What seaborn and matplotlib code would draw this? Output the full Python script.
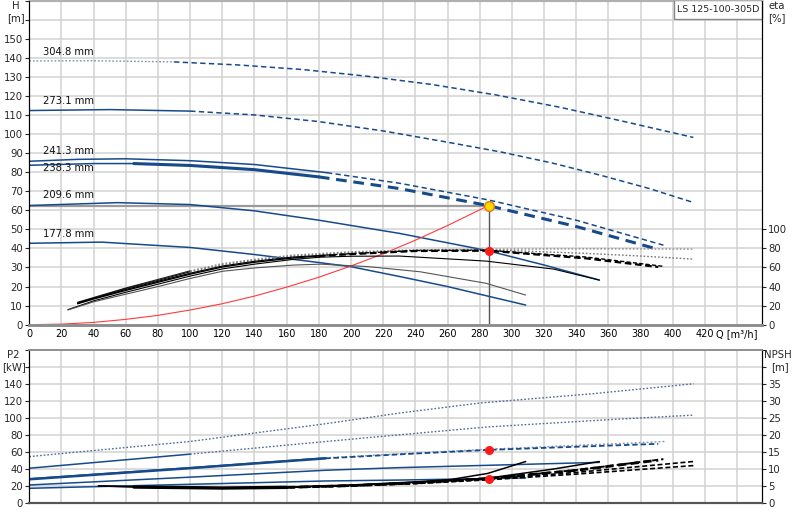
import matplotlib
matplotlib.use("Agg")
import matplotlib.pyplot as plt
import matplotlib.patches as mpatches
import numpy as np
import pandas as pd
import seaborn as sns

# ---------------- data ----------------
DIAMETERS = ["304.8 mm", "273.1 mm", "241.3 mm", "238.3 mm", "209.6 mm", "177.8 mm"]
MODEL = "LS 125-100-305D"

# head curves H [m] vs Q [m3/h]
Q_H_3048 = [0, 40, 90, 130, 170, 210, 250, 290, 330, 370, 412.8]
H_3048 = [138.3, 138.4, 137.8, 136.2, 133.8, 130.3, 126.0, 120.5, 114.0, 106.5, 98.2]
Q_H_2731 = [0, 50, 100, 140, 180, 220, 260, 293, 325, 355, 385, 412.8]
H_2731 = [112.3, 112.8, 112.0, 110.0, 106.5, 101.6, 95.7, 90.6, 84.8, 78.4, 71.5, 64.1]
Q_H_2413 = [0, 30, 60, 100, 140, 185, 230, 285, 340, 394.2]
H_2413 = [85.7, 86.7, 87.0, 86.0, 84.0, 79.7, 74.2, 65.5, 54.8, 41.7]
Q_H_2383 = [0, 40, 65, 100, 140, 180, 230, 285, 340, 391]
H_2383 = [83.6, 84.5, 84.5, 83.5, 81.3, 77.5, 71.4, 62.5, 51.5, 39.5]
Q_H_2096 = [0, 55, 100, 140, 180, 230, 285, 320, 354.4]
H_2096 = [62.5, 64.0, 63.0, 59.7, 54.8, 47.9, 38.8, 31.3, 23.4]
Q_H_1778 = [0, 45, 100, 140, 180, 200, 230, 260, 285, 308.6]
H_1778 = [42.7, 43.3, 40.5, 36.8, 32.6, 30.4, 25.3, 20.0, 15.0, 10.3]

# efficiency curves eta [%]
Q_E_3048 = [30, 40, 60, 80, 100, 120, 140, 164, 200, 240, 285, 346, 380, 412.8]
E_3048 = [23.5, 28.5, 38.5, 47.5, 56.5, 64.0, 68.5, 73.0, 76.5, 78.5, 79.2, 79.6, 79.5, 79.3]
Q_E_2731 = [30, 40, 60, 80, 100, 120, 140, 164, 200, 240, 285, 346, 380, 412.8]
E_2731 = [23.0, 28.0, 38.0, 46.5, 55.5, 63.0, 67.5, 72.0, 75.5, 77.8, 78.6, 74.8, 72.0, 68.8]
Q_E_2413 = [30, 40, 60, 80, 100, 120, 140, 164, 185, 200, 240, 285, 346, 394.2]
E_2413 = [22.4, 27.5, 37.0, 45.5, 54.0, 61.5, 66.5, 71.0, 73.0, 74.5, 77.8, 78.0, 71.0, 61.2]
Q_E_2383 = [30, 40, 60, 80, 100, 120, 140, 164, 180, 200, 240, 285, 346, 391]
E_2383 = [22.0, 27.0, 36.0, 44.5, 53.0, 60.5, 65.5, 70.0, 72.0, 74.0, 77.3, 77.6, 69.6, 60.5]
Q_E_2096 = [24, 40, 60, 80, 100, 120, 140, 164, 181, 200, 230, 284, 326, 354.4]
E_2096 = [15.8, 25.0, 34.0, 42.5, 51.0, 58.5, 63.5, 68.5, 70.8, 71.8, 72.0, 66.7, 58.3, 46.8]
Q_E_1778 = [24, 40, 60, 80, 100, 120, 140, 164, 181, 210, 243, 284, 308.6]
E_1778 = [15.4, 24.0, 32.0, 40.0, 48.5, 56.0, 59.5, 62.5, 63.5, 61.0, 55.5, 43.4, 31.1]

# system curve
Q_SYS = [0, 20, 40, 60, 80, 100, 120, 140, 160, 180, 200, 220, 240, 260, 285.5]
H_SYS = [0, 0.3, 1.2, 2.8, 4.9, 7.7, 11.0, 15.0, 19.7, 24.9, 30.8, 37.2, 44.3, 52.0, 62.5]

# power curves P2 [kW]
Q_P_3048 = [0, 100, 184, 230, 280, 350, 413]
P_3048 = [54.6, 72.4, 93.2, 105.8, 117.6, 128.5, 140.3]
Q_P_2731 = [0, 100, 184, 230, 285, 359, 412.8]
P_2731 = [40.9, 57.5, 72.3, 80.2, 89.5, 97.9, 103.4]
Q_P_2413 = [0, 100, 184, 230, 285.5, 395]
P_2413 = [28.5, 41.5, 53.0, 57.8, 63.2, 72.3]
Q_P_2383 = [0, 100, 184, 230, 285.5, 391]
P_2383 = [27.9, 41.0, 52.5, 57.2, 62.5, 69.6]
Q_P_2096 = [0, 100, 184, 230, 354.4]
P_2096 = [21.2, 30.4, 38.5, 41.6, 47.8]
Q_P_1778 = [0, 100, 184, 230, 308.6]
P_1778 = [17.3, 22.0, 25.9, 27.0, 29.5]

# NPSH curves [m]
Q_N_3048 = [86, 120, 160, 200, 240, 285, 340, 412.8]
N_3048 = [4.5, 4.35, 4.5, 5.0, 5.7, 6.8, 8.5, 11.0]
Q_N_2731 = [86, 120, 160, 200, 240, 285, 340, 412.8]
N_2731 = [4.5, 4.35, 4.55, 5.05, 5.8, 7.0, 9.0, 12.2]
Q_N_2413 = [65, 120, 160, 200, 240, 285, 340, 394.2]
N_2413 = [4.7, 4.4, 4.6, 5.15, 6.0, 7.2, 9.7, 12.9]
Q_N_2383 = [65, 120, 160, 200, 240, 285, 340, 391]
N_2383 = [4.7, 4.4, 4.6, 5.1, 5.9, 7.2, 9.6, 12.6]
Q_N_2096 = [43, 80, 120, 160, 200, 240, 285, 326, 354.4]
N_2096 = [5.0, 4.6, 4.4, 4.6, 5.2, 6.1, 7.3, 10.0, 12.2]
Q_N_1778 = [43, 80, 120, 160, 200, 240, 262, 285, 308.6]
N_1778 = [5.0, 4.6, 4.4, 4.7, 5.3, 6.2, 6.9, 8.7, 12.2]

# duty point
OP_Q, OP_H, OP_ETA, OP_P2, OP_NPSH = 285.5, 62.5, 77.6, 62.5, 7.2

Q_TICKS = list(range(0, 441, 20))
Q_LABELS = [str(v) for v in range(0, 421, 20)] + ["Q [m\u00b3/h]"]

# ---------------- style ----------------
sns.set_style("white")
plt.rcParams["font.family"] = ["DejaVu Sans"]
plt.rcParams["font.size"] = 7

BLUE = "#174a8b"
GREYBLUE = "#7f8fae"
GRID = "#d2d2d2"
DOT = (0, (1.2, 1.4))
DASH = (0, (3.5, 2.2))
DASH_S = (0, (3, 1.6))

W, Hpx = 800, 520


def fx(px):
    return px / W


def fy(py):
    return 1 - py / Hpx


def segs(q, v, bounds):
    idx = [0] + [q.index(b) for b in bounds] + [len(q) - 1]
    return [(q[a:b + 1], v[a:b + 1]) for a, b in zip(idx[:-1], idx[1:])]


def draw(axis, q, v, bounds, styles):
    for (qs, vs), st in zip(segs(q, v, bounds), styles):
        df = pd.DataFrame({"Q": qs, "v": vs})
        sns.lineplot(data=df, x="Q", y="v", ax=axis, estimator=None,
                     sort=False, legend=False, **st)


fig = plt.figure(figsize=(8, 5.2), dpi=100)
ax = fig.add_axes([fx(29.3), fy(324.7), fx(762) - fx(29.3), fy(0.5) - fy(324.7)])
ax_e = ax.twinx()
bx = fig.add_axes([fx(29.3), fy(503), fx(762) - fx(29.3), fy(350) - fy(503)])
bx_n = bx.twinx()


def S(c, ls="-", lw=1.0):
    return dict(color=c, linestyle=ls, linewidth=lw)


# ---- upper: head curves
draw(ax, Q_H_3048, H_3048, [90], [S(GREYBLUE, DOT, 1.0), S(BLUE, DASH, 1.1)])
draw(ax, Q_H_2731, H_2731, [100], [S(BLUE, "-", 1.1), S(BLUE, DASH, 1.1)])
draw(ax, Q_H_2413, H_2413, [185], [S(BLUE, "-", 1.1), S(BLUE, DASH, 1.1)])
draw(ax, Q_H_2383, H_2383, [65, 180], [S(BLUE, "-", 1.1), S(BLUE, "-", 2.2), S(BLUE, DASH, 2.2)])
draw(ax, Q_H_2096, H_2096, [], [S(BLUE, "-", 1.1)])
draw(ax, Q_H_1778, H_1778, [], [S(BLUE, "-", 1.1)])

draw(ax, Q_SYS, H_SYS, [], [S("#ff3a3a", "-", 0.8)])
ax.plot([0, OP_Q], [OP_H, OP_H], color="#9a9a9a", lw=1.6, zorder=1)
ax.plot([OP_Q, OP_Q], [0, OP_H], color="#555555", lw=1.0, zorder=1)

# ---- upper: efficiency curves
draw(ax_e, Q_E_3048, E_3048, [100], [S("#222222", "-", 0.8), S("#8c8c8c", DOT, 1.0)])
draw(ax_e, Q_E_2731, E_2731, [100], [S("#111111", "-", 0.8), S("#777777", DOT, 1.0)])
draw(ax_e, Q_E_2413, E_2413, [185], [S("black", "-", 0.8), S("black", DASH_S, 1.0)])
draw(ax_e, Q_E_2383, E_2383, [180], [S("black", "-", 1.0), S("black", DASH_S, 1.6)])
draw(ax_e, Q_E_2096, E_2096, [], [S("black", "-", 0.8)])
draw(ax_e, Q_E_1778, E_1778, [], [S("#555555", "-", 0.8)])

ax.plot([OP_Q], [OP_H], "o", ms=7, mfc="#ffd800", mec="#e07b00", mew=1.0, zorder=10)
ax_e.plot([OP_Q], [OP_ETA], "o", ms=5.5, color="#ff1a1a", zorder=10)

# ---- lower: power curves
draw(bx, Q_P_3048, P_3048, [], [S("#4d6a98", DOT, 1.0)])
draw(bx, Q_P_2731, P_2731, [100], [S(BLUE, "-", 1.1), S("#4d6a98", DOT, 1.0)])
draw(bx, Q_P_2413, P_2413, [184], [S(BLUE, "-", 1.1), S("#8c97ae", DOT, 1.1)])
draw(bx, Q_P_2383, P_2383, [184], [S(BLUE, "-", 1.8), S(BLUE, DASH_S, 1.3)])
draw(bx, Q_P_2096, P_2096, [], [S(BLUE, "-", 1.1)])
draw(bx, Q_P_1778, P_1778, [], [S(BLUE, "-", 1.1)])
bx.plot([OP_Q], [OP_P2], "o", ms=5.5, color="#ff1a1a", zorder=10)

# ---- lower: NPSH curves
draw(bx_n, Q_N_3048, N_3048, [], [S("black", DASH_S, 1.2)])
draw(bx_n, Q_N_2731, N_2731, [], [S("black", DASH_S, 1.2)])
draw(bx_n, Q_N_2413, N_2413, [160], [S("black", "-", 1.4), S("black", DASH_S, 1.4)])
draw(bx_n, Q_N_2383, N_2383, [160], [S("black", "-", 2.4), S("black", DASH_S, 2.0)])
draw(bx_n, Q_N_2096, N_2096, [], [S("black", "-", 1.1)])
draw(bx_n, Q_N_1778, N_1778, [], [S("black", "-", 1.1)])
bx_n.plot([OP_Q], [OP_NPSH], "o", ms=5.5, color="#ff1a1a", zorder=10)

# ---------------- axes formatting ----------------
for a in (ax, ax_e, bx, bx_n):
    a.set_xlabel("")
    a.set_ylabel("")
    a.set_xlim(0, 455.5)

ax.set_ylim(0, 170)
ax_e.set_ylim(0, 340)
bx.set_ylim(0, 180)
bx_n.set_ylim(0, 45)

for a in (ax, bx):
    a.set_xticks(Q_TICKS)
    a.grid(True, color=GRID, lw=1.1)
    a.set_axisbelow(True)

ax.set_xticklabels(Q_LABELS)
ax.tick_params(axis="x", length=0, pad=3, labelsize=7, colors="black")
bx.set_xticklabels([])
bx.tick_params(axis="x", length=0)

ax.set_yticks(list(range(0, 171, 10)))
ax.set_yticklabels([str(v) for v in range(0, 151, 10)] + ["", ""])
ax.tick_params(axis="y", length=3, width=0.8, pad=1.5, labelsize=7.3, direction="out")
ax_e.set_yticks(list(range(0, 101, 20)))
ax_e.tick_params(axis="y", length=3, width=0.8, pad=1.5, labelsize=7.3, direction="out")

bx.set_yticks(list(range(0, 181, 20)))
bx.set_yticklabels([str(v) for v in range(0, 141, 20)] + ["", ""])
bx.tick_params(axis="y", length=3, width=0.8, pad=1.5, labelsize=7.3, direction="out")
bx_n.set_yticks(list(range(0, 46, 5)))
bx_n.set_yticklabels([str(v) for v in range(0, 36, 5)] + ["", ""])
bx_n.tick_params(axis="y", length=3, width=0.8, pad=1.5, labelsize=7.3, direction="out")

for a in (ax, ax_e):
    a.spines["left"].set_color("black")
    a.spines["right"].set_color("black")
    a.spines["bottom"].set_color("#8f8f8f")
    a.spines["bottom"].set_linewidth(2.0)
    a.spines["top"].set_color("#b0b0b0")
for a in (bx, bx_n):
    a.spines["left"].set_color("black")
    a.spines["right"].set_color("black")
    a.spines["bottom"].set_color("#555555")
    a.spines["bottom"].set_linewidth(1.5)
    a.spines["top"].set_color("#8f8f8f")
    a.spines["top"].set_linewidth(1.2)

# diameter labels
for lab, yv in zip(DIAMETERS, [143.0, 117.3, 91.2, 82.2, 68.1, 47.5]):
    ax.text(8.5, yv, lab, ha="left", va="center", fontsize=7.2, color="#111111")

# model box
ax.add_patch(mpatches.Rectangle((0.88, 0.9415), 0.1205, 0.0585, transform=ax.transAxes,
                                facecolor="white", edgecolor="#888888", lw=1.0,
                                zorder=20, clip_on=False))
ax.text(0.9405, 0.971, MODEL, transform=ax.transAxes, ha="center", va="center",
        fontsize=6.8, zorder=21)

# unit labels
fig.text(fx(15.7), fy(6), "H", ha="center", va="center", fontsize=7.3)
fig.text(fx(16), fy(18), "[m]", ha="center", va="center", fontsize=7.3)
fig.text(fx(777), fy(6), "eta", ha="center", va="center", fontsize=7.3)
fig.text(fx(777), fy(18), "[%]", ha="center", va="center", fontsize=7.3)
fig.text(fx(13.5), fy(355), "P2", ha="center", va="center", fontsize=7.3)
fig.text(fx(14), fy(367), "[kW]", ha="center", va="center", fontsize=7.3)
fig.text(fx(778), fy(355), "NPSH", ha="center", va="center", fontsize=7.3)
fig.text(fx(780), fy(367), "[m]", ha="center", va="center", fontsize=7.3)

fig.savefig("out.png", dpi=100, facecolor="white")
